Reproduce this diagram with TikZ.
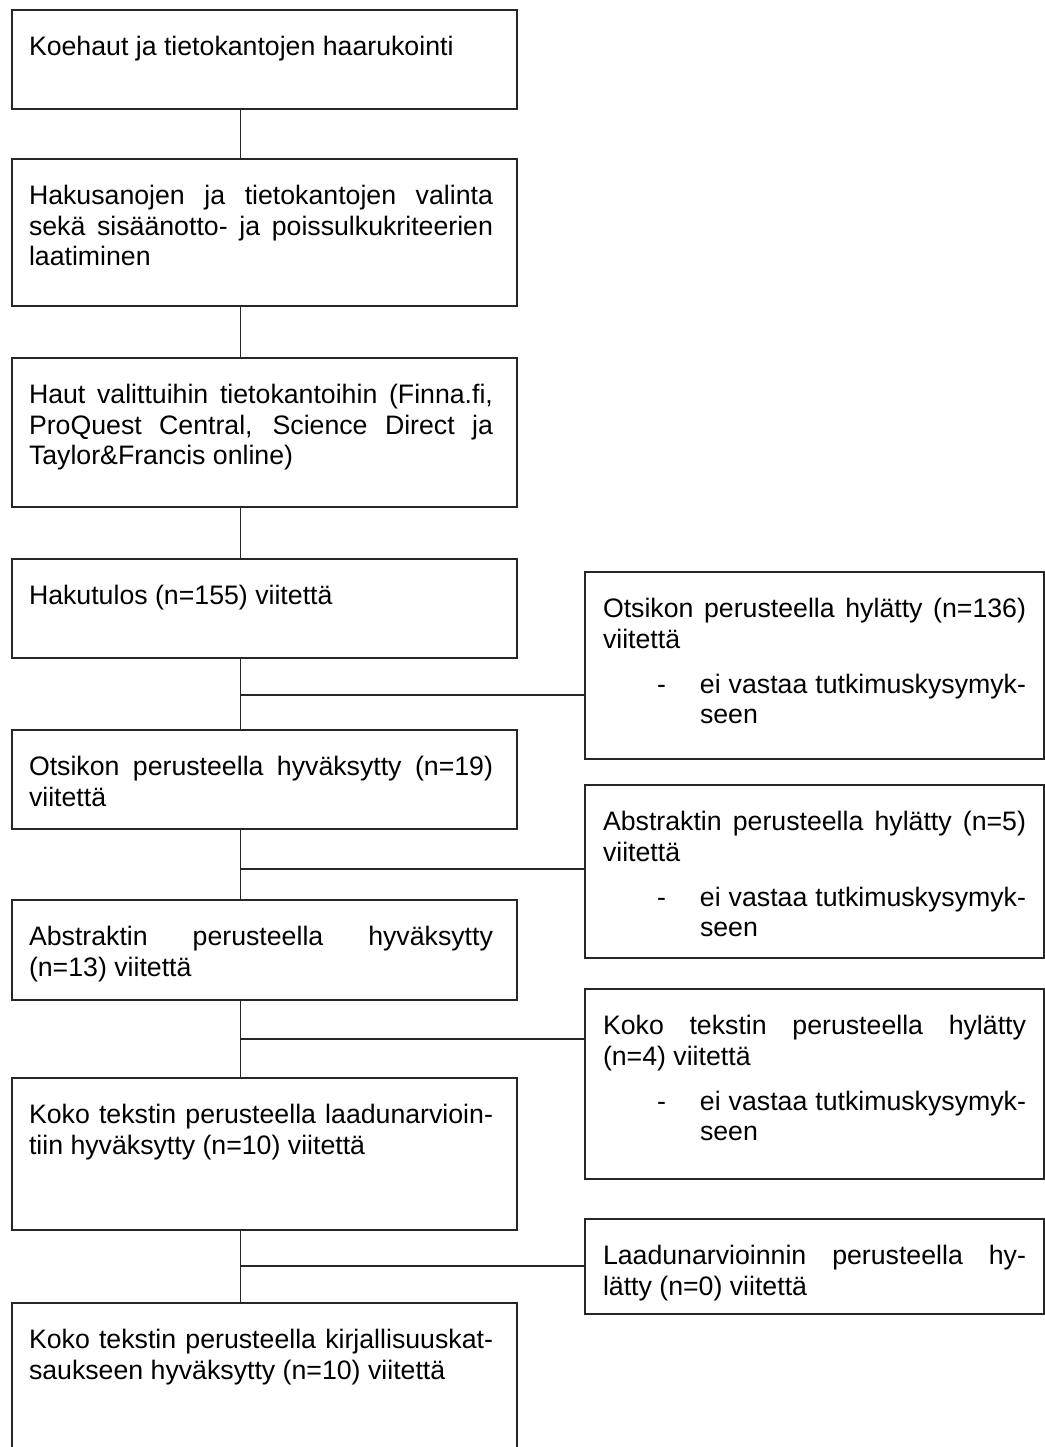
\documentclass[tikz,border=0pt]{standalone}
\usepackage{fontspec}
\setmainfont{Liberation Sans}
\usetikzlibrary{positioning,calc}
\hyphenpenalty=10000
\exhyphenpenalty=10000
\tolerance=10000
\hbadness=10000
\tikzset{
  box/.style={draw=black!85, line width=0.75pt, outer sep=0pt, anchor=north, inner ysep=0pt,
    align=justify, text height=22.75pt, font=\fontsize{13.35pt}{15.25pt}\selectfont,
    execute at end node={\par}},
  leftbox/.style={box, text width=235.5pt, inner xsep=8.5pt, execute at begin node={\rightskip=3.5pt\relax},
    text depth=#1*0.5pt-22.75pt},
  rightbox/.style={box, text width=211.5pt, inner xsep=9pt, text depth=#1*0.5pt-22.75pt},
  link/.style={draw=black!85, line width=0.75pt}
}
\newcommand{\reason}{\par\vspace{7.25pt}\leftskip=48.5pt\noindent\hspace*{-21.5pt}\makebox[21.5pt][l]{-}ei vastaa tutkimuskysymyk-\linebreak seen\par}

\begin{document}
\begin{tikzpicture}[x=0.5pt, y=-0.5pt]
\clip (0,0) rectangle (1045,1447);
\node[leftbox=99, anchor=north west] (b1) at (12,10) {Koehaut ja tietokantojen haarukointi};
\node[leftbox=147, below=25pt of b1] (b2) {Hakusanojen ja tietokantojen valinta\linebreak sekä sisäänotto- ja poissulkukriteerien\linebreak laatiminen};
\node[leftbox=149, below=26pt of b2] (b3) {Haut valittuihin tietokantoihin (Finna.fi,\linebreak ProQuest Central, Science Direct ja\linebreak Taylor\&Francis online)};
\node[leftbox=99, below=26pt of b3] (b4) {Hakutulos (n=155) viitettä};
\node[leftbox=99, below=36pt of b4] (b5) {Otsikon perusteella hyväksytty (n=19)\linebreak viitettä};
\node[leftbox=100, below=35.5pt of b5] (b6) {Abstraktin perusteella hyväksytty\linebreak (n=13) viitettä};
\node[leftbox=152, below=39pt of b6] (b7) {Koko tekstin perusteella laadunarvioin-\linebreak tiin hyväksytty (n=10) viitettä};
\node[leftbox=200, below=36.5pt of b7] (b8) {Koko tekstin perusteella kirjallisuuskat-\linebreak saukseen hyväksytty (n=10) viitettä};

\node[rightbox=187, right=34pt of b4.north east, anchor=north west, yshift=-6.5pt] (r1) {Otsikon perusteella hylätty (n=136)\linebreak viitettä\reason};
\node[rightbox=173, below=13pt of r1] (r2) {Abstraktin perusteella hylätty (n=5)\linebreak viitettä\reason};
\node[rightbox=190, below=15.5pt of r2] (r3) {Koko tekstin perusteella hylätty\linebreak (n=4) viitettä\reason};
\node[rightbox=95, below=20pt of r3] (r4) {Laadunarvioinnin perusteella hy-\linebreak lätty (n=0) viitettä};

\coordinate (spine) at ([xshift=-12pt]b1.south);
\coordinate (j1) at ($(b4.south -| spine)+(0,-18.5pt)$);
\coordinate (j2) at ($(b5.south -| spine)+(0,-20pt)$);
\coordinate (j3) at ($(b6.south -| spine)+(0,-19.5pt)$);
\coordinate (j4) at ($(b7.south -| spine)+(0,-18pt)$);

\draw[link] (b1.south -| spine) -- (b2.north -| spine);
\draw[link] (b2.south -| spine) -- (b3.north -| spine);
\draw[link] (b3.south -| spine) -- (b4.north -| spine);
\draw[link] (b4.south -| spine) -- (b5.north -| spine);
\draw[link] (b5.south -| spine) -- (b6.north -| spine);
\draw[link] (b6.south -| spine) -- (b7.north -| spine);
\draw[link] (b7.south -| spine) -- (b8.north -| spine);
\draw[link] (j1) -- (j1 -| r1.west);
\draw[link] (j2) -- (j2 -| r2.west);
\draw[link] (j3) -- (j3 -| r3.west);
\draw[link] (j4) -- (j4 -| r4.west);
\end{tikzpicture}
\end{document}
